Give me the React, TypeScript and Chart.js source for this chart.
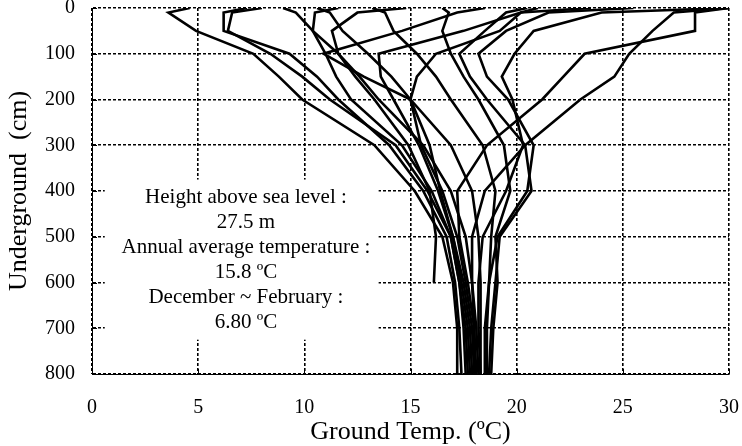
import { useEffect, useRef } from "react";
import { Chart, registerables } from "chart.js";

Chart.register(...registerables);

// Depths (cm) at which each temperature profile was measured
const depths = [0, 10, 50, 100, 150, 200, 300, 400, 500, 600, 700, 800];

// Ground temperature profiles (ºC), one per observation date
const profile01 = [4.6, 3.6, 4.9, 7.6, 8.8, 9.9, 13.3, 15.2, 16.5, 17.0, 17.2, 17.2];
const profile02 = [7.3, 6.2, 6.2, 9.3, 10.6, 11.6, 14.0, 15.6, 16.7, 17.1, 17.3, 17.4];
const profile03 = [8.0, 6.6, 6.4, 8.4, 9.9, 11.2, 14.3, 15.8, 16.9, 17.3, 17.5, 17.6];
const profile04 = [11.6, 10.5, 10.4, 11.0, 11.5, 12.2, 14.6, 16.0, 16.9, 17.3, 17.6, 17.7];
const profile05 = [18.5, 17.2, 14.6, 10.9, 12.8, 15.0, 15.9, 16.4, 17.0, 17.4, 17.7, 17.8];
const profile06 = [21.0, 20.2, 17.5, 13.5, 13.6, 14.2, 15.4, 16.3, 17.0, 17.5, 17.8, 17.9];
const profile07 = [23.5, 20.2, 19.2, 16.2, 15.3, 15.0, 15.5, 16.5, 17.2, 17.6, 17.9, 18.0];
const profile08 = [30.0, 28.4, 28.4, 23.2, 22.2, 21.2, 18.6, 17.2, 17.3, 17.7, 18.0, 18.1];
const profile09 = [30.0, 27.4, 26.4, 25.3, 24.6, 23.0, 20.4, 18.5, 17.9, 17.9, 18.1, 18.2];
const profile10 = [30.0, 24.0, 20.8, 19.9, 19.3, 19.8, 20.3, 19.5, 18.4, 18.2, 18.2, 18.3];
const profile11 = [25.5, 21.5, 19.5, 18.2, 18.6, 19.6, 20.8, 20.5, 19.1, 18.7, 18.5, 18.5];
const profile12 = [20.5, 19.5, 18.5, 17.3, 17.8, 18.6, 20.4, 20.7, 19.2, 19.0, 18.8, 18.7];
const profile13 = [16.5, 16.8, 16.5, 16.9, 17.5, 18.2, 19.4, 19.7, 19.0, 19.1, 18.9, 18.8];
const profile14 = [13.2, 13.8, 14.2, 15.3, 16.2, 16.9, 18.4, 19.0, 18.8, 18.7, 18.6, 18.6];
const profile15 = [10.6, 11.2, 11.8, 13.0, 14.1, 15.0, 16.9, 17.9, 18.2, 18.3, 18.3, 18.3];
const profile16 = [9.0, 9.6, 10.4, 11.6, 12.6, 13.5, 15.6, 16.9, 17.6, 17.9, 18.0, 18.0];
const profile17 = [14.8, 12.5, 11.3, 11.6, 12.4, 13.3, 14.9, 15.9, 16.2, 16.1, null, null];

const profiles: (number | null)[][] = [
  profile01, profile02, profile03, profile04, profile05, profile06,
  profile07, profile08, profile09, profile10, profile11, profile12,
  profile13, profile14, profile15, profile16, profile17,
];

// Axis ticks
const xTicks = [0, 5, 10, 15, 20, 25, 30];
const yTicks = [0, 100, 200, 300, 400, 500, 600, 700, 800];

// Annotation text
const noteLines = [
  "Height above sea level :",
  "27.5 m",
  "Annual average temperature :",
  "15.8 ºC",
  "December ~ February :",
  "6.80 ºC",
];

const FONT = "'Liberation Serif', 'Times New Roman', serif";

export default function App() {
  const ref = useRef<HTMLCanvasElement>(null);

  useEffect(() => {
    document.body.style.margin = "0";
    const canvas = ref.current;
    if (!canvas) return;

    const datasets = profiles.map((p) => ({
      data: depths
        .map((d, i) => (p[i] == null ? null : { x: p[i] as number, y: d }))
        .filter((pt) => pt !== null) as { x: number; y: number }[],
      borderColor: "#000",
      backgroundColor: "#000",
      borderWidth: 2.6,
      pointRadius: 0,
      showLine: true,
      fill: false,
      tension: 0,
      borderJoinStyle: "miter" as const,
    }));

    const overlay = {
      id: "overlay",
      beforeDatasetsDraw(chart: any) {
        const { ctx, chartArea, scales } = chart;
        const xs = scales.x;
        const ys = scales.y;
        ctx.save();
        // inward tick marks
        ctx.strokeStyle = "#000";
        ctx.lineWidth = 1;
        xTicks.forEach((v) => {
          const px = Math.round(xs.getPixelForValue(v)) + 0.5;
          ctx.beginPath();
          ctx.moveTo(px, chartArea.bottom);
          ctx.lineTo(px, chartArea.bottom - 5);
          ctx.stroke();
        });
        yTicks.forEach((v) => {
          const py = Math.round(ys.getPixelForValue(v)) + 0.5;
          ctx.beginPath();
          ctx.moveTo(chartArea.left, py);
          ctx.lineTo(chartArea.left + 5, py);
          ctx.stroke();
        });
        // annotation box
        const bx1 = xs.getPixelForValue(0.6);
        const bx2 = xs.getPixelForValue(13.5);
        const by1 = ys.getPixelForValue(375);
        const by2 = ys.getPixelForValue(725);
        ctx.fillStyle = "#fff";
        ctx.fillRect(bx1, by1, bx2 - bx1, by2 - by1);
        ctx.fillStyle = "#000";
        ctx.font = `21px ${FONT}`;
        ctx.textAlign = "center";
        ctx.textBaseline = "middle";
        const cx = xs.getPixelForValue(7.25);
        const y0 = ys.getPixelForValue(415);
        noteLines.forEach((t, i) => {
          ctx.fillText(t, cx, y0 + i * 25);
        });
        ctx.restore();
      },
    };

    const chart = new Chart(canvas, {
      type: "scatter",
      data: { datasets },
      plugins: [overlay],
      options: {
        responsive: false,
        devicePixelRatio: 1,
        animation: false,
        layout: { padding: { left: 0, right: 13, top: 8, bottom: 0 } },
        plugins: { legend: { display: false }, tooltip: { enabled: false } },
        scales: {
          x: {
            type: "linear",
            min: 0,
            max: 30,
            afterBuildTicks: (s: any) => {
              s.ticks = xTicks.map((v) => ({ value: v }));
            },
            afterFit: (s: any) => {
              s.height = 72;
              s.paddingLeft = 0;
              s.paddingRight = 0;
            },
            grid: { color: "#000", lineWidth: 1.6, drawTicks: false },
            border: { display: true, color: "#000", width: 1, dash: [3, 2] },
            ticks: { font: { family: FONT, size: 20 }, color: "#000", padding: 22 },
            title: {
              display: true,
              text: "Ground Temp. (ºC)",
              font: { family: FONT, size: 26 },
              color: "#000",
              padding: { top: 0, bottom: -2 },
            },
          },
          y: {
            type: "linear",
            reverse: true,
            min: 0,
            max: 800,
            afterBuildTicks: (s: any) => {
              s.ticks = yTicks.map((v) => ({ value: v }));
            },
            afterFit: (s: any) => {
              s.width = 92;
              s.paddingTop = 0;
              s.paddingBottom = 0;
            },
            grid: { color: "#000", lineWidth: 1.6, drawTicks: false },
            border: { display: true, color: "#000", width: 1, dash: [3, 2] },
            ticks: { font: { family: FONT, size: 20 }, color: "#000", padding: 17 },
            title: {
              display: true,
              text: "Underground  (cm)",
              font: { family: FONT, size: 26 },
              color: "#000",
              padding: { top: 4, bottom: 0 },
            },
          },
        },
      },
    });

    return () => chart.destroy();
  }, []);

  return <canvas ref={ref} width={742} height={446} style={{ display: "block" }} />;
}
